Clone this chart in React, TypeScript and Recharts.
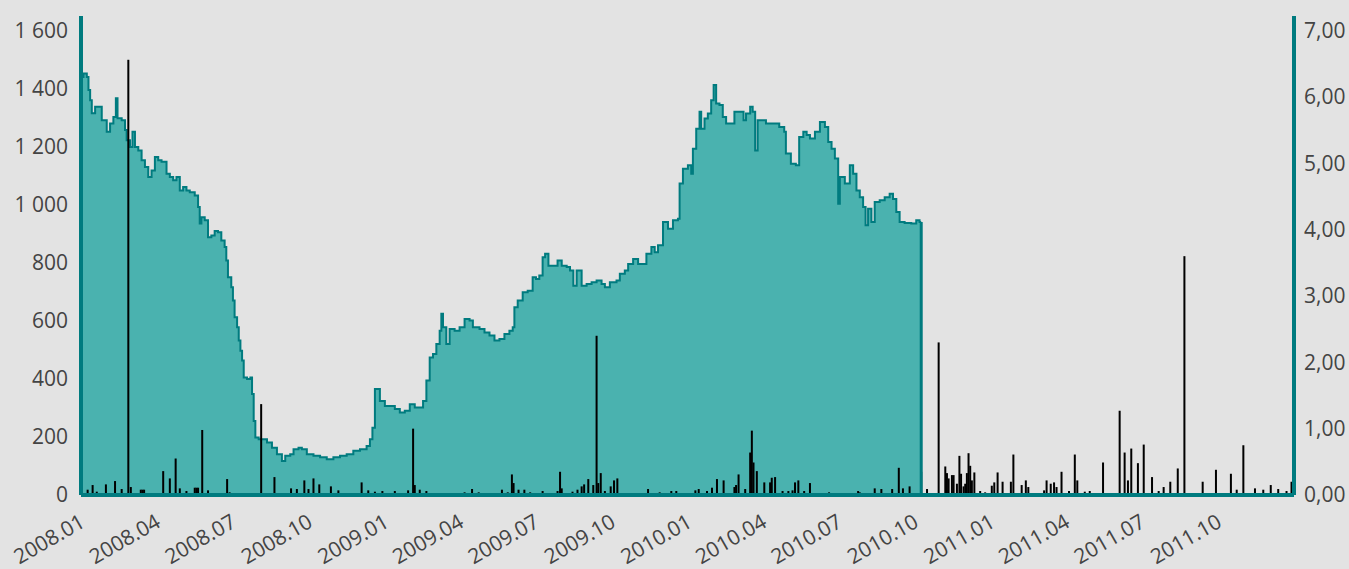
import React from 'react';
import { ComposedChart, Area, Bar, XAxis, YAxis, ReferenceLine } from 'recharts';

const BASE = Date.UTC(2008, 0, 1);
const DAY_MS = 86400000;

const quarterLabels = [
  '2008.01', '2008.04', '2008.07', '2008.10',
  '2009.01', '2009.04', '2009.07', '2009.10',
  '2010.01', '2010.04', '2010.07', '2010.10',
  '2011.01', '2011.04', '2011.07', '2011.10',
];
const leftTicks = [0, 200, 400, 600, 800, 1000, 1200, 1400, 1600];
const rightTicks = [0, 1, 2, 3, 4, 5, 6, 7];

// [day offset from 2008-01-01, index value]
const pricePoints: [number, number][] = [
  [1, 1440], [3, 1452], [7, 1440], [9, 1395], [11, 1360], [13, 1315], [17, 1337], [21, 1337], [25, 1291],
  [31, 1251], [35, 1280], [39, 1302], [42, 1367], [44, 1298], [49, 1291], [53, 1257], [55, 1222], [59, 1199],
  [62, 1251], [65, 1199], [69, 1187], [73, 1153], [77, 1130], [81, 1095], [85, 1118], [89, 1164], [93, 1153],
  [97, 1148], [103, 1107], [107, 1095], [111, 1084], [115, 1095], [119, 1049], [123, 1061], [127, 1049],
  [131, 1043], [137, 1032], [141, 992], [143, 935], [145, 957], [149, 946], [153, 888], [157, 894], [161, 909],
  [165, 905], [169, 877], [173, 854], [175, 808], [177, 750], [181, 716], [183, 670], [185, 612], [188, 578],
  [190, 532], [192, 497], [194, 463], [196, 405], [200, 400], [204, 405], [206, 348], [208, 255], [210, 198],
  [214, 192], [220, 192], [224, 181], [230, 163], [236, 140], [242, 117], [246, 135], [252, 140], [256, 158],
  [262, 163], [266, 158], [272, 140], [280, 135], [288, 130], [296, 123], [304, 130], [312, 135], [320, 140],
  [328, 152], [336, 158], [344, 169], [348, 192], [351, 232], [354, 365], [360, 324], [366, 307], [372, 307],
  [378, 296], [384, 284], [390, 290], [396, 313], [402, 301], [408, 301], [412, 324], [416, 394], [420, 474],
  [424, 486], [428, 520], [432, 566], [434, 624], [436, 578], [440, 520], [444, 572], [450, 566], [456, 578],
  [462, 606], [468, 601], [472, 578], [480, 572], [486, 560], [492, 549], [498, 532], [504, 537], [510, 555],
  [516, 566], [520, 578], [522, 647], [526, 670], [532, 698], [538, 704], [544, 750], [548, 744], [552, 756],
  [556, 819], [559, 831], [563, 790], [569, 790], [574, 808], [579, 790], [585, 785], [589, 773], [593, 721],
  [597, 773], [603, 721], [609, 727], [615, 733], [621, 739], [627, 727], [631, 716], [637, 733], [645, 739],
  [649, 762], [655, 773], [659, 796], [665, 813], [671, 796], [676, 796], [681, 831], [687, 854], [691, 836],
  [695, 860], [701, 940], [707, 917], [713, 946], [719, 952], [721, 1073], [725, 1124], [731, 1136], [735, 1107],
  [737, 1193], [741, 1262], [745, 1320], [747, 1262], [751, 1297], [755, 1314], [759, 1360], [762, 1412],
  [765, 1349], [769, 1343], [773, 1302], [777, 1280], [783, 1280], [787, 1320], [793, 1320], [798, 1291],
  [801, 1314], [806, 1337], [809, 1320], [812, 1187], [815, 1291], [819, 1291], [825, 1280], [833, 1280],
  [841, 1268], [847, 1251], [849, 1176], [855, 1141], [861, 1136], [865, 1233], [870, 1251], [874, 1240],
  [878, 1228], [884, 1251], [890, 1285], [896, 1268], [900, 1216], [904, 1193], [908, 1159], [912, 1003],
  [914, 1095], [920, 1073], [926, 1136], [930, 1107], [934, 1049], [938, 1026], [942, 992], [945, 929],
  [948, 986], [952, 940], [956, 1009], [962, 1015], [968, 1026], [974, 1038], [978, 1020], [982, 975],
  [986, 940], [992, 937], [1000, 935], [1006, 946], [1010, 940], [1012, 940],
];

// [day offset from 2008-01-01, volume]
const volumePoints: [number, number][] = [
  [8, 0.08], [14, 0.15], [19, 0.05], [30, 0.16], [41, 0.21], [49, 0.09], [57, 6.56], [60, 0.12], [72, 0.08],
  [74, 0.08], [76, 0.08], [89, 0.02], [99, 0.36], [107, 0.25], [114, 0.55], [119, 0.1], [127, 0.06], [137, 0.11],
  [139, 0.11], [141, 0.11], [146, 0.98], [153, 0.07], [176, 0.24], [179, 0.04], [189, 0.02], [217, 1.37],
  [233, 0.27], [253, 0.1], [260, 0.09], [269, 0.22], [274, 0.09], [280, 0.25], [287, 0.16], [301, 0.13],
  [310, 0.07], [338, 0.19], [346, 0.07], [354, 0.05], [363, 0.06], [378, 0.06], [394, 0.07], [400, 1.0],
  [402, 0.15], [408, 0.08], [416, 0.06], [462, 0.04], [471, 0.09], [479, 0.04], [507, 0.08], [514, 0.04],
  [519, 0.31], [521, 0.18], [527, 0.08], [534, 0.08], [541, 0.04], [556, 0.06], [574, 0.06], [577, 0.35],
  [579, 0.1], [592, 0.05], [598, 0.08], [603, 0.13], [606, 0.16], [611, 0.24], [617, 0.15], [621, 2.4],
  [623, 0.18], [626, 0.33], [631, 0.06], [638, 0.13], [642, 0.22], [646, 0.25], [683, 0.09], [697, 0.04],
  [711, 0.06], [717, 0.06], [740, 0.07], [744, 0.09], [754, 0.06], [760, 0.11], [766, 0.24], [774, 0.22],
  [787, 0.12], [789, 0.15], [792, 0.31], [800, 0.09], [806, 0.64], [808, 0.97], [810, 0.49], [814, 0.36],
  [823, 0.19], [830, 0.19], [832, 0.26], [836, 0.27], [845, 0.06], [852, 0.06], [857, 0.07], [860, 0.19],
  [864, 0.22], [871, 0.06], [878, 0.18], [901, 0.04], [936, 0.06], [938, 0.04], [956, 0.1], [964, 0.09],
  [977, 0.09], [985, 0.41], [990, 0.1], [998, 0.13], [1012, 0.35], [1019, 0.09], [1027, 0.03], [1033, 2.3],
  [1037, 0.02], [1041, 0.43], [1043, 0.33], [1045, 0.25], [1049, 0.3], [1051, 0.3], [1055, 0.17], [1058, 0.59],
  [1060, 0.32], [1063, 0.13], [1065, 0.17], [1067, 0.33], [1069, 0.63], [1071, 0.44], [1073, 0.22], [1076, 0.34],
  [1083, 0.06], [1089, 0.04], [1097, 0.14], [1100, 0.19], [1104, 0.34], [1110, 0.2], [1120, 0.2], [1123, 0.61],
  [1133, 0.15], [1138, 0.22], [1141, 0.12], [1160, 0.07], [1163, 0.22], [1168, 0.17], [1172, 0.19], [1175, 0.12],
  [1181, 0.35], [1190, 0.06], [1197, 0.61], [1200, 0.22], [1209, 0.05], [1215, 0.06], [1231, 0.49], [1241, 0.02],
  [1251, 1.27], [1257, 0.64], [1261, 0.22], [1265, 0.7], [1273, 0.48], [1280, 0.76], [1290, 0.27], [1298, 0.06],
  [1304, 0.12], [1312, 0.2], [1321, 0.4], [1329, 3.6], [1351, 0.2], [1367, 0.38], [1385, 0.32], [1392, 0.08],
  [1400, 0.75], [1414, 0.1], [1424, 0.08], [1433, 0.15], [1442, 0.09], [1452, 0.06], [1458, 0.2],
];

const labelDay = (l: string) => {
  const [y, m] = l.split('.').map(Number);
  return Math.round((Date.UTC(y, m - 1, 1) - BASE) / DAY_MS);
};
const xTicks = quarterLabels.map(labelDay);
const labelByDay = new Map<number, string>(xTicks.map((d, i) => [d, quarterLabels[i]]));
const endDay = Math.round((Date.UTC(2012, 0, 1) - BASE) / DAY_MS);

const rows = new Map<number, any>();
pricePoints.forEach(([d, v]) => rows.set(d, { day: d, price: v }));
volumePoints.forEach(([d, v]) => {
  const r = rows.get(d) ?? { day: d };
  r.vol = v;
  rows.set(d, r);
});
const data = Array.from(rows.values()).sort((a, b) => a.day - b.day);
const lastPrice = pricePoints[pricePoints.length - 1];

const TEAL = '#007b7f';
const FILL = '#4ab2af';
const TEXT = '#444444';
const FONT = "'Open Sans', 'DejaVu Sans', sans-serif";
const SPIKE_W = 2;

const fmtLeft = (v: number) =>
  v >= 1000 ? `${Math.floor(v / 1000)} ${String(v % 1000).padStart(3, '0')}` : String(v);
const fmtRight = (v: number) => v.toFixed(2).replace('.', ',');

const Spike = (props: any) => {
  const { x, y, width, height } = props;
  if (height == null || !isFinite(height) || height <= 0) return null;
  const cx = x + (width || 0) / 2;
  return <rect x={cx - SPIKE_W / 2} y={y} width={SPIKE_W} height={height} fill="#000000" />;
};

export default function App() {
  return (
    <div style={{ position: 'absolute', left: 0, top: 0, width: 1349, height: 569, background: '#e3e3e3' }}>
      <ComposedChart
        width={1349}
        height={569}
        data={data}
        margin={{ top: 16, right: 0, bottom: 0, left: 0 }}
      >
        <XAxis
          dataKey="day"
          type="number"
          domain={[0, endDay]}
          ticks={xTicks}
          tickFormatter={(d: number) => labelByDay.get(d) ?? ''}
          interval={0}
          height={74}
          angle={-30}
          textAnchor="end"
          tickLine={false}
          tickSize={0}
          tickMargin={18}
          axisLine={{ stroke: TEAL, strokeWidth: 4 }}
          tick={{ fontSize: 21, fill: TEXT, fontFamily: FONT, dx: -2 }}
          allowDataOverflow
        />
        <YAxis
          yAxisId="left"
          orientation="left"
          width={81}
          domain={[0, 1650]}
          ticks={leftTicks}
          interval={0}
          tickFormatter={fmtLeft}
          tickLine={false}
          tickSize={0}
          tickMargin={13}
          axisLine={{ stroke: TEAL, strokeWidth: 4 }}
          tick={{ fontSize: 21, fill: TEXT, fontFamily: FONT }}
          allowDataOverflow
        />
        <YAxis
          yAxisId="right"
          orientation="right"
          width={55}
          domain={[0, 7.22]}
          ticks={rightTicks}
          interval={0}
          tickFormatter={fmtRight}
          tickLine={false}
          tickSize={0}
          tickMargin={10}
          axisLine={{ stroke: TEAL, strokeWidth: 4 }}
          tick={{ fontSize: 21, fill: TEXT, fontFamily: FONT }}
          allowDataOverflow
        />
        <Area
          yAxisId="left"
          dataKey="price"
          type="stepAfter"
          stroke={TEAL}
          strokeWidth={2}
          fill={FILL}
          fillOpacity={1}
          connectNulls
          dot={false}
          activeDot={false}
          isAnimationActive={false}
        />
        <ReferenceLine
          yAxisId="left"
          segment={[{ x: lastPrice[0], y: 0 }, { x: lastPrice[0], y: lastPrice[1] }]}
          stroke={TEAL}
          strokeWidth={3}
        />
        <Bar
          yAxisId="right"
          dataKey="vol"
          fill="#000000"
          shape={Spike}
          isAnimationActive={false}
        />
      </ComposedChart>
    </div>
  );
}
